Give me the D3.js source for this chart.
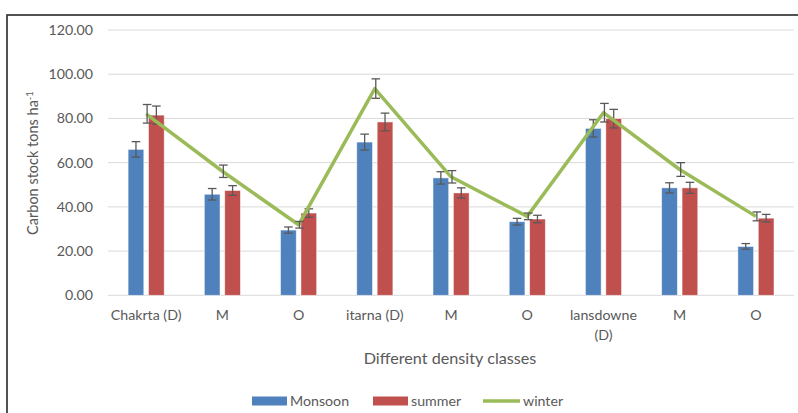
<!DOCTYPE html>
<html>
<head>
<meta charset="utf-8">
<script src="https://cdn.jsdelivr.net/npm/d3@7/dist/d3.min.js"></script>
<style>
  html, body { margin: 0; padding: 0; background: #fff; }
  svg { display: block; font-family: Lato, "Open Sans", sans-serif; }
</style>
</head>
<body>
<svg id="chart" width="798" height="413"></svg>
<script>
// Density classes per site (D = dense, M = medium, O = open)
const categories = ["Chakrta (D)", "M", "O", "itarna (D)", "M", "O", "lansdowne (D)", "M", "O"];
const categoryLines = [["Chakrta (D)"], ["M"], ["O"], ["itarna (D)"], ["M"], ["O"], ["lansdowne", "(D)"], ["M"], ["O"]];

// Carbon stock (tons per ha) by season, with standard errors
const monsoon    = [66.0, 45.7, 29.5, 69.3, 53.1, 33.3, 75.5, 48.6, 22.1];
const monsoonErr = [3.5, 2.6, 1.4, 3.6, 2.8, 1.5, 3.9, 2.3, 1.3];
const summer     = [81.5, 47.4, 37.2, 78.4, 46.3, 34.5, 79.9, 48.6, 34.9];
const summerErr  = [4.1, 2.2, 1.9, 4.0, 2.3, 1.7, 4.2, 2.5, 1.7];
const winter     = [82.1, 56.1, 31.9, 93.5, 53.6, 35.7, 82.6, 56.9, 35.7];
const winterErr  = [4.2, 2.8, 1.5, 4.4, 2.8, 1.5, 4.2, 3.1, 2.0];

const yTicks = [0, 20, 40, 60, 80, 100, 120];

const colors = { monsoon: "#4F81BD", summer: "#C0504D", winter: "#9BBB59" };
const textColor = "#595959";

const svg = d3.select("#chart");

// Outer chart frame (runs past the right and bottom edges)
svg.append("rect")
  .attr("x", 7).attr("y", 15)
  .attr("width", 820).attr("height", 420)
  .attr("fill", "none")
  .attr("stroke", "#404040")
  .attr("stroke-width", 1.8);

const plot = { left: 108, right: 794, top: 30, bottom: 295.3 };

const x = d3.scaleBand()
  .domain(d3.range(categories.length))
  .range([plot.left, plot.right])
  .paddingInner(0).paddingOuter(0);

const y = d3.scaleLinear().domain([0, 120]).range([plot.bottom, plot.top]);

// Gridlines
svg.append("g")
  .selectAll("line")
  .data(yTicks)
  .join("line")
  .attr("x1", plot.left).attr("x2", plot.right)
  .attr("y1", d => y(d)).attr("y2", d => y(d))
  .attr("stroke", "#d9d9d9")
  .attr("stroke-width", 1);

// Y axis labels
const yAxis = d3.axisLeft(y).tickValues(yTicks).tickFormat(d3.format(".2f")).tickSize(0).tickPadding(0);
const yg = svg.append("g").attr("transform", `translate(${93},0)`).call(yAxis);
yg.select(".domain").remove();
yg.selectAll("text")
  .attr("fill", textColor)
  .style("font-size", "14.2px")
  .style("font-family", "Lato, sans-serif");

// Y axis title
const yTitle = svg.append("text")
  .attr("transform", `translate(38,163) rotate(-90)`)
  .attr("text-anchor", "middle")
  .attr("fill", textColor)
  .style("font-size", "14.5px");
yTitle.append("tspan").text("Carbon stock tons ha");
yTitle.append("tspan").attr("dy", -5).style("font-size", "9.5px").text("-1");

// Bars
const barW = 15.7;
const offsets = { monsoon: -18.0, summer: 2.4 };

function drawBars(values, errs, key) {
  const g = svg.append("g");
  g.selectAll("rect")
    .data(values)
    .join("rect")
    .attr("x", (d, i) => x(i) + x.bandwidth() / 2 + offsets[key])
    .attr("y", d => y(d))
    .attr("width", barW)
    .attr("height", d => y(0) - y(d))
    .attr("fill", colors[key])
    .attr("stroke", "#ffffff")
    .attr("stroke-opacity", 0.6)
    .attr("stroke-width", 0.8);
  drawErrors(values, errs, (i) => x(i) + x.bandwidth() / 2 + offsets[key] + barW / 2);
}

function drawErrors(values, errs, cx) {
  const g = svg.append("g")
    .attr("stroke", "#595959")
    .attr("stroke-width", 1.3)
    .attr("fill", "none");
  values.forEach((v, i) => {
    const xc = cx(i);
    const y1 = y(v + errs[i]);
    const y2 = y(v - errs[i]);
    g.append("line").attr("x1", xc).attr("x2", xc).attr("y1", y1).attr("y2", y2);
    g.append("line").attr("x1", xc - 4.3).attr("x2", xc + 4.3).attr("y1", y1).attr("y2", y1);
    g.append("line").attr("x1", xc - 4.3).attr("x2", xc + 4.3).attr("y1", y2).attr("y2", y2);
  });
}

drawBars(monsoon, monsoonErr, "monsoon");
drawBars(summer, summerErr, "summer");

// Winter line
const line = d3.line()
  .x((d, i) => x(i) + x.bandwidth() / 2)
  .y(d => y(d));

svg.append("path")
  .datum(winter)
  .attr("d", line)
  .attr("fill", "none")
  .attr("stroke", colors.winter)
  .attr("stroke-width", 3.5)
  .attr("stroke-linejoin", "round");

drawErrors(winter, winterErr, (i) => x(i) + x.bandwidth() / 2 + 1);

// X category labels
const xl = svg.append("g")
  .attr("fill", textColor)
  .style("font-size", "14.2px")
  .attr("text-anchor", "middle");
categoryLines.forEach((lines, i) => {
  const t = xl.append("text")
    .attr("x", x(i) + x.bandwidth() / 2)
    .attr("y", 320);
  lines.forEach((s, j) => {
    t.append("tspan")
      .attr("x", x(i) + x.bandwidth() / 2)
      .attr("dy", j === 0 ? 0 : 20)
      .text(s);
  });
});

// X axis title
svg.append("text")
  .attr("x", 450).attr("y", 363.5)
  .attr("text-anchor", "middle")
  .attr("fill", textColor)
  .style("font-size", "16.2px")
  .text("Different density classes");

// Legend
const legend = svg.append("g").attr("fill", textColor).style("font-size", "14.2px");
const legendItems = [
  { label: "Monsoon", key: "monsoon", type: "rect", x0: 252, w: 35 },
  { label: "summer", key: "summer", type: "rect", x0: 373, w: 35 },
  { label: "winter", key: "winter", type: "line", x0: 483, w: 37 }
];
legendItems.forEach(item => {
  if (item.type === "rect") {
    legend.append("rect")
      .attr("x", item.x0).attr("y", 396.5)
      .attr("width", item.w).attr("height", 9)
      .attr("fill", colors[item.key]);
  } else {
    legend.append("line")
      .attr("x1", item.x0).attr("x2", item.x0 + item.w)
      .attr("y1", 401).attr("y2", 401)
      .attr("stroke", colors[item.key])
      .attr("stroke-width", 3.5);
  }
  legend.append("text")
    .attr("x", item.x0 + item.w + 3)
    .attr("y", 406)
    .text(item.label);
});
</script>
</body>
</html>
